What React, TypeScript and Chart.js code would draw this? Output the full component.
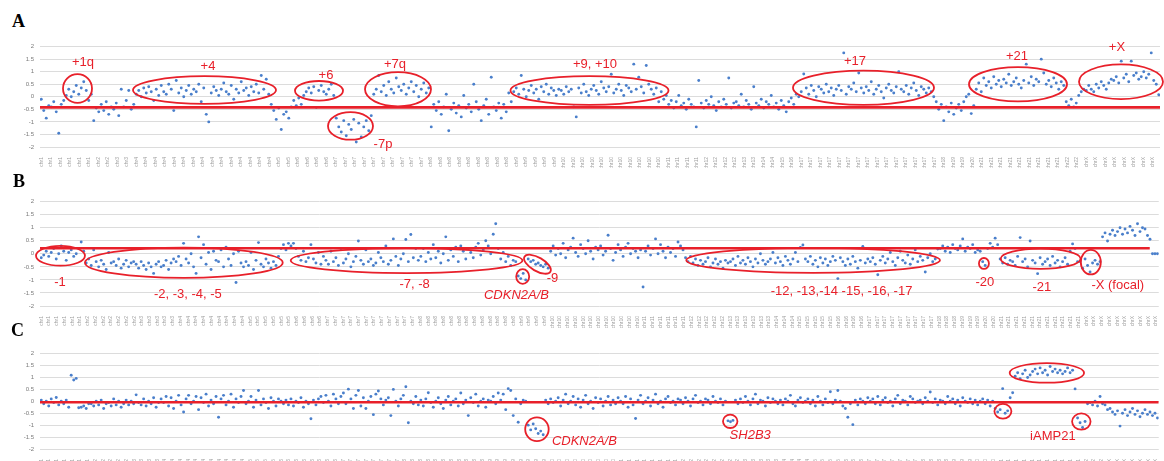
import React, { useEffect, useRef } from 'react';
import { Chart, registerables } from 'chart.js';

Chart.register(...registerables);

const RED = '#e8202a';
const BLUE = '#4a7fcb';

const CHROMS = ['1','2','3','4','5','6','7','8','9','10','11','12','13','14','15','16','17','18','19','20','21','22','X'];

// ---------- Panel A ----------
const countsA = [21, 9, 8, 54, 10, 16, 38, 33, 19, 43, 13, 14, 10, 6, 5, 5, 54, 6, 7, 3, 36, 8, 30];
const valuesA = [
  // chr1
  -0.1, -0.55, -0.85, -0.35, -0.4, -0.2, -0.6, -1.45, -0.3, -0.15, 0.05, 0.3, 0.0, 0.2, 0.45, 0.1, 0.35, 0.6, 0.25, -0.15, 0.1,
  // chr2
  -0.95, -0.45, -0.6, -0.3, -0.55, -0.2, -0.7, -0.4, -0.5,
  // chr3
  -0.25, -0.75, 0.3, -0.4, -0.15, 0.25, -0.5, -0.3,
  // chr4
  0.1, 0.25, 0.0, 0.35, 0.15, 0.4, 0.2, -0.15, 0.3, 0.05,
  0.45, 0.2, 0.1, 0.5, 0.3, -0.55, 0.65, 0.15, 0.35, 0.0,
  0.25, 0.45, 0.1, 0.3, 0.2, 0.5, -0.2, 0.35, -0.7, -1.0,
  0.15, 0.4, 0.25, 0.05, 0.3, 0.55, 0.2, 0.1, 0.45, -0.1,
  0.3, 0.15, 0.6, 0.25, 0.35, 0.05, 0.4, 0.2, 0.5, 0.15,
  0.85, 0.3, 0.7, 0.1,
  // chr5
  -0.3, -0.55, -0.9, -0.45, -1.3, -0.7, -0.6, -0.85, -0.4, -0.15,
  // chr6
  -0.35, -0.05, -0.3, 0.05, 0.2, 0.35, 0.15, 0.4, -0.42, 0.25, 0.45, 0.2, 0.1, 0.3, 0.5, 0.05,
  // chr7
  -0.85, -1.2, -1.4, -0.95, -1.55, -1.1, -1.3, -0.9, -1.8, -1.05, -1.6, -1.2, -0.95, -1.35, -0.75,
  0.1, 0.3, 0.85, 0.2, 0.45, 0.05, 0.6, 0.3, 0.15, 0.75, 0.4, 0.25, 0.5, 0.1, 0.35, 0.6, 0.2, 0.45, 0.0, 0.3, 0.55, 0.15, 0.35,
  // chr8
  -1.2, -0.3, -0.55, -0.2, -0.7, -0.4, 0.1, -1.35, -0.5, -0.25, -0.65, -0.35, -0.8, 0.05, -0.45, -0.3, -0.6,
  0.5, -0.2, -0.5, -0.95, -0.35, -0.1, -0.7, 0.78, -0.4, -0.55, -0.25, -0.85, -0.3, -0.6, 0.15, -0.2,
  // chr9
  0.2, 0.35, 0.1, 0.85, 0.3, 0.0, 0.25, 0.45, 0.15, 0.3, -0.1, 0.4, 0.2, 0.5, 0.1, 0.35, 0.25, 0.05, 0.3,
  // chr10
  0.25, 0.1, 0.4, 0.2, 0.3, -0.4, -0.8, 0.35, 0.15, 0.5,
  0.2, 0.05, 0.3, 0.45, 0.25, 0.1, 0.6, 0.35, 0.2, 0.4,
  0.9, 0.15, 0.3, 0.5, 0.25, 0.05, 0.45, 0.35, 0.2, 1.3,
  0.3, 0.78, 0.4, 0.15, 1.25, 0.5, 0.3, 0.1, 0.35, -0.2,
  0.2, -0.1, 0.05,
  // chr11
  -0.3, -0.15, -0.45, -0.2, 0.05, -0.35, -0.25, -0.5, -0.1, -0.3, -0.4, -1.2, 0.65,
  // chr12
  -0.25, -0.45, -0.15, -0.3, 0.0, -0.35, -0.55, -0.2, -0.4, -0.1, -0.3, 0.75, -0.45, -0.25,
  // chr13
  -0.2, -0.35, 0.1, -0.4, -0.15, -0.3, -0.5, 0.4, -0.25, -0.35,
  // chr14
  -0.1, -0.45, -0.2, -0.3, 0.05, -0.4,
  // chr15
  -0.25, -0.5, -0.15, -0.35, -0.6,
  // chr16
  -0.2, -0.05, -0.3, 0.1, 0.0,
  // chr17
  0.2, 0.91, 0.35, 0.1, 0.45, 0.25, 0.0, 0.4, 0.3, 0.15,
  0.5, 0.2, 0.35, 0.05, 0.3, 0.45, 0.25, 1.75, 0.1, 0.4,
  0.3, 0.55, 0.2, 0.95, 0.35, 0.15, 0.4, 0.25, 0.6, 0.1,
  0.3, 0.45, 0.2, -0.05, 0.35, 0.5, 0.25, 0.15, 0.4, 1.0,
  0.3, 0.2, 0.45, 0.1, 0.35, 0.55, 0.25, 0.05, 0.4, 0.3,
  0.15, 0.35, 0.2, 0.0,
  // chr18
  -0.2, -0.5, -0.3, -0.95, -0.4, -0.6,
  // chr19
  -0.25, -0.7, -0.45, -0.3, -0.55, -0.2, 0.0,
  // chr20
  0.1, -0.67, -0.35,
  // chr21
  0.3, 0.55, 0.2, 0.75, 0.45, 0.6, 0.35, 0.8, 0.5, 0.65,
  0.4, 0.7, 0.55, 0.9, 0.45, 0.6, 0.75, 0.5, 0.35, 0.65,
  1.3, 0.55, 0.8, 0.45, 0.7, 0.6, 1.5, 0.95, 0.5, 0.65,
  0.4, 0.75, 0.55, 0.3, 0.6, 0.45,
  // chr22
  -0.2, -0.35, -0.1, -0.4, -0.25, 0.05, 0.2, 0.3,
  // chrX
  0.25, 0.45, 0.3, 0.2, 0.5, 0.35, 0.6, 0.45, 0.3, 0.55,
  0.7, 0.65, 0.8, 0.55, 1.42, 0.75, 0.9, 0.6, 1.42, 0.85,
  0.95, 0.7, 0.8, 1.0, 0.75, 0.9, 1.75, 0.65, 0.5, 0.08,
];
const levelA = -0.42;

// ---------- Panel B ----------
const countsB = [18, 20, 16, 28, 18, 14, 38, 38, 14, 36, 18, 18, 16, 12, 14, 14, 28, 8, 8, 8, 32, 0, 32];
const valuesB = [
  // chr1
  -0.15, -0.05, 0.1, -0.1, 0.05, 0.2, -0.2, 0.0, 0.3, 0.1, -0.25, 0.05, 0.15, -0.1, 0.0, 0.2, 0.45, 0.1,
  // chr2
  -0.35, -0.2, -0.45, 0.15, -0.3, -0.5, -0.25, -0.4, -0.6, 0.05, -0.35, -0.3, -0.45, -0.2, -0.55, -0.4, -0.25, -0.5, -0.35, -0.3,
  // chr3
  -0.4, -0.55, -0.3, -0.45, -0.6, -0.35, -0.5, -0.75, -0.4, -0.3, -0.5, -0.45, -0.25, -0.6, -0.35, -0.2,
  // chr4
  -0.3, -0.1, -0.45, 0.4, -0.2, -0.35, 0.0, -0.5, -0.75, 0.65,
  -0.15, 0.35, -0.4, 0.05, -0.6, 0.1, -0.25, -0.3, 0.15, -0.5,
  0.25, -0.2, -0.45, 0.0, -1.1, 0.1, -0.35, -0.5,
  // chr5
  -0.3, -0.45, 0.05, -0.6, -0.25, 0.43, -0.4, -0.5, -0.2, -0.35, -0.55, -0.3, -0.45, -0.1, 0.2, 0.35, 0.15, 0.4,
  // chr6
  0.3, 0.4, 0.2, -0.1, -0.25, 0.1, -0.3, -0.15, 0.35, -0.2, -0.35, 0.05, -0.4, -0.1,
  // chr7
  -0.25, -0.4, 0.1, -0.3, -0.15, -0.45, 0.2, -0.35, -0.2, 0.0,
  -0.5, -0.3, -0.1, 0.49, -0.25, -0.4, 0.15, -0.3, -0.2, -0.45,
  -0.35, 0.05, -0.15, -0.3, 0.3, -0.4, -0.25, 0.57, -0.1, -0.45,
  -0.2, 0.0, 0.55, -0.3, 0.74, -0.15, 0.2, -0.25,
  // chr8
  -0.1, 0.2, -0.3, 0.05, -0.2, 0.35, -0.15, 0.1, -0.35, 0.0,
  0.65, -0.25, 0.15, -0.1, 0.25, -0.3, 0.3, 0.1, -0.2, 0.2,
  0.05, -0.15, 0.25, 0.4, -0.05, 0.15, 0.5, 0.3, 0.0, 0.75,
  1.15, 0.2, -0.2, 0.05, -0.3, -0.1, -0.45, -0.25,
  // chr9
  -0.3, -0.85, -0.95, -0.75, -1.0, -0.2, -0.3, -0.25, -0.4, -0.35, -0.45, -0.5, -0.4, -0.55,
  // chr10
  0.1, 0.3, -0.05, 0.2, 0.0, 0.4, -0.15, 0.15, 0.25, 0.6,
  0.05, -0.1, 0.35, 0.2, 0.0, 0.5, 0.1, -0.2, 0.25, 0.15,
  0.3, -0.05, 0.1, 0.71, 0.2, -0.25, 0.05, 0.35, 0.15, -0.1,
  0.25, 0.4, 0.0, 0.2, 0.1, -0.15,
  // chr11
  0.15, -1.27, 0.1, 0.3, -0.05, 0.2, 0.57, 0.0, 0.35, 0.1, -0.15, 0.25, 0.05, 0.2, -0.1, 0.45, 0.3, 0.15,
  // chr12
  -0.15, -0.3, -0.1, -0.35, -0.2, -0.45, -0.25, -0.4, -0.3, -0.15, -0.5, -0.35, -0.2, -0.4, -0.3, -0.55, -0.25, -0.35,
  // chr13
  -0.3, -0.2, -0.45, -0.1, -0.35, -0.25, -0.4, -0.15, -0.3, -0.5, -0.2, -0.35, 0.0, -0.25, -0.4, -0.3,
  // chr14
  -0.2, 0.05, -0.35, -0.15, -0.3, -0.45, -0.1, -0.25, -0.4, -0.2, 0.05, -0.3,
  // chr15
  0.24, 0.34, -0.2, -0.3, -0.1, -0.4, -0.25, -0.5, -0.15, -0.35, -0.2, -0.45, -0.3, -0.1,
  // chr16
  -0.25, -0.95, -0.15, -0.3, -0.45, -0.2, -0.4, -0.1, -0.3, -0.55, -0.25, 0.28, -0.35, -0.2,
  // chr17
  -0.3, -0.15, -0.4, -0.8, -0.25, -0.1, -0.35, -0.2, 0.05, -0.3,
  -0.45, -0.15, 0.1, -0.25, -0.35, -0.05, -0.4, -0.2, 0.15, -0.3,
  -0.1, -0.25, -0.7, -0.15, 0.0, -0.3, -0.2, 0.18,
  // chr18
  0.2, 0.3, 0.1, 0.25, 0.05, 0.35, 0.2, 0.15,
  // chr19
  0.3, 0.57, 0.1, 0.25, 0.2, 0.35, 0.05, 0.15,
  // chr20
  0.1, -0.3, -0.45, 0.2, 0.4, 0.25, 0.6, 0.35,
  // chr21
  -0.2, -0.35, -0.15, -0.4, -0.25, -0.3, -0.45, -0.1, 0.62, -0.3,
  -0.2, -0.5, 0.49, -0.25, -0.35, -0.76, -0.15, -0.4, -0.3, -0.2,
  -0.45, -0.1, -0.35, -0.25, -0.5, -0.3, -0.15, -0.4, 0.1, 0.38,
  0.2, -0.3,
  // chrX
  -0.3, -0.55, -0.2, -0.45, -0.7, -0.35, -0.25, -0.4, -0.3,
  0.65, 0.8, 0.49, 0.75, 0.9, 0.7, 0.85, 1.0, 0.75, 0.95,
  0.8, 1.05, 0.9, 0.7, 1.15, 0.85, 1.0, 0.95, 0.7,
  0.56, 0.0, 0.0, 0.0,
];
const levelB = 0.21;

// ---------- Panel C ----------
const countsC = [20, 16, 12, 34, 14, 24, 24, 36, 24, 28, 24, 24, 16, 12, 12, 12, 20, 12, 10, 8, 36, 8, 22];
const valuesC = [
  // chr1
  0.05, -0.1, 0.0, -0.2, 0.1, -0.05, 0.16, -0.15, 0.0, -0.1, 0.05, -0.25, 1.09, 0.89, 0.96, -0.27, -0.25, -0.2, -0.3, -0.1,
  // chr2
  -0.1, -0.2, 0.0, -0.15, 0.05, -0.3, -0.1, -0.05, -0.2, 0.1, -0.15, 0.0, -0.25, -0.1, 0.05, -0.15,
  // chr3
  0.0, -0.1, 0.27, -0.05, -0.15, 0.1, -0.2, 0.0, -0.1, 0.15, -0.25, -0.05,
  // chr4
  0.1, -0.05, 0.2, -0.2, 0.15, -0.3, 0.0, 0.25, -0.15, -0.45,
  0.1, 0.25, -0.1, 0.0, 0.2, -0.35, 0.15, -0.05, 0.3, -0.2,
  0.05, -0.1, 0.2, -0.67, 0.1, 0.25, -0.15, 0.0, 0.3, -0.25,
  0.1, -0.05, 0.2, 0.45,
  // chr5
  -0.1, 0.0, 0.2, -0.25, 0.05, 0.45, -0.15, 0.1, -0.05, -0.3, 0.15, 0.0, -0.2, 0.1,
  // chr6
  0.0, -0.1, 0.05, -0.15, 0.1, -0.2, 0.0, -0.05, 0.15, -0.25,
  0.0, -0.1, -0.73, 0.05, -0.15, 0.1, 0.2, -0.05, 0.25, 0.0,
  -0.2, 0.3, 0.1, -0.1,
  // chr7
  0.2, 0.35, -0.1, 0.51, 0.1, -0.3, 0.25, 0.45, -0.2, 0.15,
  -0.3, 0.0, 0.2, -0.56, 0.3, 0.43, 0.1, -0.15, 0.05, 0.15,
  -0.6, 0.5, 0.0, -0.2,
  // chr8
  0.1, 0.25, 0.61, -0.9, 0.0, -0.1, 0.2, -0.15, 0.05, -0.2,
  0.1, 0.36, -0.05, -0.25, 0.0, 0.15, -0.1, -0.3, 0.05, 0.2,
  -0.15, 0.0, 0.1, -0.2, 0.35, -0.1, 0.05, -0.6, 0.15, -0.05,
  0.3, -0.2, 0.0, 0.1, -0.25, 0.05,
  // chr9
  0.0, 0.2, -0.1, 0.35, 0.05, 0.3, -0.35, 0.53, 0.45, -0.6, 0.1, -0.88,
  -0.1, 0.05, 0.0, -1.0, -1.2, -0.95, -1.15, -1.35, -1.25, -1.4, 0.05, -0.1,
  // chr10
  0.1, -0.05, 0.0, 0.15, -0.2, 0.05, 0.3, -0.1, 0.0, 0.2,
  -0.15, 0.1, -0.25, 0.05, 0.25, -0.1, 0.0, -0.3, 0.15, -0.05,
  0.1, -0.2, 0.0, 0.2, -0.15, 0.05, -0.1, 0.15,
  // chr11
  0.0, -0.1, 0.2, -0.25, 0.1, -0.15, -0.72, 0.05, 0.25, -0.1,
  0.0, 0.15, -0.2, 0.05, 0.3, -0.1, 0.0, -0.25, 0.1, 0.2,
  -0.05, 0.0, -0.15, 0.1,
  // chr12
  0.05, -0.1, 0.15, 0.0, -0.2, 0.1, 0.25, -0.05, 0.0, -0.15,
  0.1, 0.05, -0.1, 0.2, 0.0, -0.05, 0.1, -0.15, 0.0, -0.82,
  -0.86, -0.8, 0.05, -0.1,
  // chr13
  0.1, -0.05, 0.2, 0.0, -0.15, 0.1, 0.3, -0.1, 0.05, 0.0, -0.2, 0.15, -0.05, 0.1, 0.0, -0.1,
  // chr14
  0.05, -0.15, 0.1, 0.0, 0.25, -0.1, -0.2, 0.05, 0.15, -0.05, 0.0, 0.1,
  // chr15
  -0.1, 0.05, -0.2, 0.2, 0.0, -0.15, 0.1, -0.05, 0.4, -0.1, 0.05, 0.45,
  // chr16
  0.0, -0.2, -0.3, -0.67, -0.1, -0.98, 0.05, -0.15, 0.1, 0.0, -0.1, 0.15,
  // chr17
  0.0, 0.1, -0.1, 0.2, -0.15, 0.05, 0.15, -0.05, 0.0, -0.2, 0.1, 0.25, -0.1, 0.05, 0.0, -0.15, 0.2, 0.1, -0.05, 0.0,
  // chr18
  0.05, -0.1, 0.15, 0.0, 0.39, -0.05, 0.1, -0.15, 0.05, 0.0, -0.1, 0.2,
  // chr19
  0.0, 0.1, -0.1, 0.05, -0.2, 0.15, 0.0, -0.05, 0.1, -0.1,
  // chr20
  0.05, -0.15, 0.0, 0.1, -0.1, 0.05, -0.2, 0.0,
  // chr21
  -0.3, -0.45, -0.35, 0.53, -0.5, -0.4, 0.15, 0.36,
  1.05, 1.2, 0.95, 1.15, 1.3, 1.0, 1.1, 1.25, 1.35, 1.15,
  1.4, 1.2, 1.3, 1.1, 1.46, 1.25, 1.35, 1.2, 1.3, 1.15,
  1.25, 1.4, 1.2, 1.3, 0.52, -0.7, -0.9, -1.1,
  // chr22
  -0.85, -0.1, -0.05, -0.15, 0.0, -0.2, 0.2, -0.1,
  // chrX
  -0.15, -0.35, -0.3, -0.45, -0.55, -0.4, -1.04, -0.5, -0.35, -0.6, -0.45,
  -0.3, -0.55, -0.4, -0.65, -0.5, -0.35, -0.55, -0.45, -0.6, -0.5, -0.7,
];
const levelC = -0.04;

// ---------- Annotations (data coordinates: x = probe index, y = log ratio) ----------
type Ellipse = { x: number; y: number; rx: number; ry: number; rot?: number };
type Note = { x: number; y: number; text: string; italic?: boolean };

const ellipsesA: Ellipse[] = [
  { x: 14.5, y: 0.33, rx: 5.8, ry: 0.57 },
  { x: 65.3, y: 0.27, rx: 28.6, ry: 0.55 },
  { x: 111.1, y: 0.24, rx: 9.6, ry: 0.39 },
  { x: 123.7, y: -1.16, rx: 9, ry: 0.55 },
  { x: 142.7, y: 0.3, rx: 13.2, ry: 0.68 },
  { x: 219.3, y: 0.25, rx: 31.6, ry: 0.57 },
  { x: 328.9, y: 0.36, rx: 28.2, ry: 0.68 },
  { x: 390.7, y: 0.5, rx: 19.6, ry: 0.68 },
  { x: 431.9, y: 0.6, rx: 16.8, ry: 0.69 },
];
const notesA: Note[] = [
  { x: 16.7, y: 1.37, text: '+1q' },
  { x: 66.7, y: 1.22, text: '+4' },
  { x: 113.9, y: 0.86, text: '+6' },
  { x: 136.7, y: -1.88, text: '-7p' },
  { x: 141.5, y: 1.29, text: '+7q' },
  { x: 221.5, y: 1.29, text: '+9, +10' },
  { x: 325.5, y: 1.41, text: '+17' },
  { x: 390.3, y: 1.61, text: '+21' },
  { x: 430.3, y: 1.96, text: '+X' },
];

const ellipsesB: Ellipse[] = [
  { x: 7.7, y: -0.075, rx: 9.8, ry: 0.38 },
  { x: 57.1, y: -0.34, rx: 39.6, ry: 0.58 },
  { x: 146.3, y: -0.26, rx: 46.4, ry: 0.48 },
  { x: 192.8, y: -0.87, rx: 2.6, ry: 0.28 },
  { x: 198.7, y: -0.4, rx: 6, ry: 0.26, rot: 30 },
  { x: 309.1, y: -0.25, rx: 50.8, ry: 0.48 },
  { x: 377.5, y: -0.37, rx: 2, ry: 0.21 },
  { x: 400.2, y: -0.19, rx: 16, ry: 0.39 },
  { x: 420.3, y: -0.32, rx: 4, ry: 0.47 },
];
const notesB: Note[] = [
  { x: 7.5, y: -1.08, text: '-1' },
  { x: 58.7, y: -1.55, text: '-2, -3, -4, -5' },
  { x: 149.5, y: -1.18, text: '-7, -8' },
  { x: 190.3, y: -1.58, text: 'CDKN2A/B', italic: true },
  { x: 204.7, y: -0.95, text: '-9' },
  { x: 320.5, y: -1.43, text: '-12, -13,-14 -15, -16, -17' },
  { x: 377.9, y: -1.1, text: '-20' },
  { x: 400.7, y: -1.27, text: '-21' },
  { x: 431.1, y: -1.23, text: '-X (focal)' },
];

const ellipsesC: Ellipse[] = [
  { x: 198.5, y: -1.17, rx: 4.7, ry: 0.5 },
  { x: 275.9, y: -0.84, rx: 2.9, ry: 0.28 },
  { x: 385.1, y: -0.42, rx: 3.4, ry: 0.31 },
  { x: 402.7, y: 1.19, rx: 14.9, ry: 0.41 },
  { x: 416.5, y: -0.85, rx: 3.7, ry: 0.34 },
];
const notesC: Note[] = [
  { x: 217.5, y: -1.67, text: 'CDKN2A/B', italic: true },
  { x: 283.9, y: -1.42, text: 'SH2B3', italic: true },
  { x: 405.1, y: -1.49, text: 'iAMP21' },
];

function chromAt(counts: number[], idx: number): string {
  let acc = 0;
  for (let c = 0; c < counts.length; c++) {
    acc += counts[c];
    if (idx < acc) return 'chr' + CHROMS[c];
  }
  return 'chr' + CHROMS[CHROMS.length - 1];
}

type PanelProps = {
  top: number;
  height: number;
  xAxisHeight: number;
  values: number[];
  counts: number[];
  level: number;
  lineEnd: number;
  ellipses: Ellipse[];
  notes: Note[];
  labelStep: number;
};

function Panel(p: PanelProps) {
  const ref = useRef<HTMLCanvasElement | null>(null);
  useEffect(() => {
    if (!ref.current) return;
    const n = p.values.length;
    const annot = {
      id: 'annot',
      afterDatasetsDraw(chart: any) {
        const xs = chart.scales.x;
        const ys = chart.scales.y;
        const ctx = chart.ctx as CanvasRenderingContext2D;
        ctx.save();
        ctx.strokeStyle = RED;
        ctx.lineWidth = 1.8;
        for (const e of p.ellipses) {
          const cx = xs.getPixelForValue(e.x);
          const cy = ys.getPixelForValue(e.y);
          const rxp = Math.abs(xs.getPixelForValue(e.x + e.rx) - cx);
          const ryp = Math.abs(ys.getPixelForValue(e.y + e.ry) - cy);
          ctx.beginPath();
          ctx.ellipse(cx, cy, rxp, ryp, ((e.rot || 0) * Math.PI) / 180, 0, Math.PI * 2);
          ctx.stroke();
        }
        ctx.fillStyle = RED;
        ctx.textAlign = 'center';
        ctx.textBaseline = 'middle';
        for (const t of p.notes) {
          ctx.font = (t.italic ? 'italic ' : '') + '13px "Liberation Sans", Arial, sans-serif';
          ctx.fillText(t.text, xs.getPixelForValue(t.x), ys.getPixelForValue(t.y));
        }
        ctx.restore();
      },
    };
    const chart = new Chart(ref.current, {
      type: 'scatter',
      data: {
        datasets: [
          {
            data: [
              { x: -0.5, y: p.level },
              { x: p.lineEnd, y: p.level },
            ],
            showLine: true,
            borderColor: RED,
            borderWidth: 2.6,
            pointRadius: 0,
          },
          {
            data: p.values.map((v, i) => ({ x: i, y: v })),
            showLine: false,
            pointRadius: 1.45,
            pointBorderWidth: 0,
            pointBackgroundColor: BLUE,
            backgroundColor: BLUE,
          },
        ],
      },
      options: {
        animation: false,
        responsive: false,
        devicePixelRatio: 1,
        events: [],
        layout: { padding: { top: 8, right: 4, left: 0, bottom: 0 } },
        plugins: { legend: { display: false }, tooltip: { enabled: false } },
        scales: {
          x: {
            type: 'linear',
            min: -0.5,
            max: n - 0.5,
            grid: { display: false },
            border: { display: false },
            afterFit: (s: any) => {
              s.height = p.xAxisHeight;
            },
            afterBuildTicks: (s: any) => {
              const ticks = [];
              for (let v = 0; v <= n - 1; v += p.labelStep) ticks.push({ value: v });
              s.ticks = ticks;
            },
            ticks: {
              autoSkip: false,
              minRotation: 90,
              maxRotation: 90,
              padding: 2,
              color: '#a0a0a0',
              font: { size: 5, family: 'Liberation Sans' },
              callback: (v: any) => chromAt(p.counts, Math.round(Number(v))),
            },
          },
          y: {
            min: -2,
            max: 2,
            grid: { color: '#dcdcdc', lineWidth: 1, drawTicks: false },
            border: { display: false },
            afterFit: (s: any) => {
              s.width = 40;
            },
            ticks: {
              stepSize: 0.5,
              padding: 6,
              color: '#7a7a7a',
              font: { size: 6, family: 'Liberation Sans' },
              callback: (v: any) => String(Number(v)),
            },
          },
        },
      },
      plugins: [annot],
    } as any);
    return () => chart.destroy();
  }, []);
  return (
    <canvas
      ref={ref}
      width={1164}
      height={p.height}
      style={{ position: 'absolute', left: 0, top: p.top, width: 1164, height: p.height }}
    />
  );
}

const letterStyle: React.CSSProperties = {
  position: 'absolute',
  fontFamily: '"Liberation Serif", "Times New Roman", serif',
  fontWeight: 'bold',
  fontSize: 18,
  lineHeight: '18px',
  color: '#000',
};

export default function App() {
  return (
    <div
      style={{
        position: 'absolute',
        left: 0,
        top: 0,
        width: 1164,
        height: 461,
        background: '#fff',
        overflow: 'hidden',
      }}
    >
      <Panel top={37} height={131} xAxisHeight={21} values={valuesA} counts={countsA} level={levelA} lineEnd={447.5} ellipses={ellipsesA} notes={notesA} labelStep={3.8} />
      <Panel top={192} height={136} xAxisHeight={22} values={valuesB} counts={countsB} level={levelB} lineEnd={443.9} ellipses={ellipsesB} notes={notesB} labelStep={3.1} />
      <Panel top={344} height={117} xAxisHeight={12} values={valuesC} counts={countsC} level={levelC} lineEnd={447.5} ellipses={ellipsesC} notes={notesC} labelStep={3.1} />
      <div style={{ ...letterStyle, left: 12, top: 12 }}>A</div>
      <div style={{ ...letterStyle, left: 13, top: 172 }}>B</div>
      <div style={{ ...letterStyle, left: 11, top: 321 }}>C</div>
    </div>
  );
}
